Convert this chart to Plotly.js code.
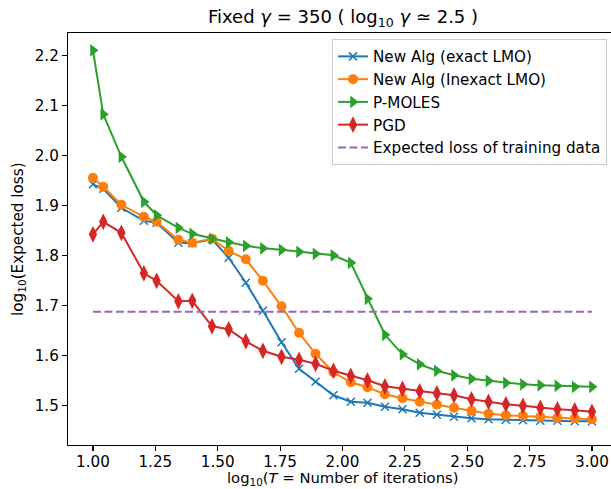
<!DOCTYPE html>
<html>
<head>
<meta charset="utf-8">
<script src="https://cdn.plot.ly/plotly-3.0.1.min.js"></script>
<style>html,body{margin:0;padding:0;background:#fff;}#chart{width:611px;height:489px;}</style>
</head>
<body>
<div id="chart"></div>
<script>
// Iteration counts T (x axis shows log10 T)
var iterations = [10, 11, 13, 16, 18, 22, 25, 30, 35, 41, 48, 57, 67, 78, 92, 108, 126, 148, 174, 204, 239, 280, 329, 385, 452, 529, 621, 727, 853, 1000];

var newAlgExact = [1.942, 1.933, 1.895, 1.869, 1.865, 1.825, 1.824, 1.832, 1.795, 1.745,
                   1.689, 1.626, 1.573, 1.547, 1.520, 1.507, 1.505, 1.497, 1.492, 1.485,
                   1.481, 1.477, 1.474, 1.472, 1.471, 1.470, 1.469, 1.469, 1.468, 1.468];

var newAlgInexact = [1.955, 1.937, 1.901, 1.877, 1.867, 1.831, 1.825, 1.833, 1.809, 1.792,
                     1.749, 1.698, 1.645, 1.603, 1.566, 1.546, 1.536, 1.522, 1.514, 1.507,
                     1.501, 1.495, 1.489, 1.483, 1.480, 1.479, 1.477, 1.475, 1.474, 1.472];

var pMoles = [2.210, 2.082, 1.997, 1.907, 1.880, 1.855, 1.843, 1.833, 1.826, 1.819,
              1.814, 1.811, 1.807, 1.803, 1.800, 1.785, 1.713, 1.641, 1.602, 1.582,
              1.569, 1.560, 1.553, 1.549, 1.545, 1.542, 1.540, 1.539, 1.537, 1.537];

var pgd = [1.842, 1.867, 1.845, 1.764, 1.749, 1.708, 1.709, 1.658, 1.652, 1.628,
           1.609, 1.597, 1.591, 1.583, 1.569, 1.559, 1.550, 1.538, 1.533, 1.528,
           1.524, 1.520, 1.512, 1.507, 1.502, 1.499, 1.495, 1.492, 1.490, 1.487];

var trainingLossX = [1.0, 3.0];
var trainingLoss = [1.687, 1.687];

var xTickVals = [1.00, 1.25, 1.50, 1.75, 2.00, 2.25, 2.50, 2.75, 3.00];
var yTickVals = [1.5, 1.6, 1.7, 1.8, 1.9, 2.0, 2.1, 2.2];

var seriesNames = ['New Alg (exact LMO)', 'New Alg (Inexact LMO)', 'P-MOLES', 'PGD', 'Expected loss of training data'];

var logT = iterations.map(function (t) { return Math.log10(t); });

var FONT = 'DejaVu Sans, sans-serif';
var FS = 15.2;
var PLOT_L = 68, PLOT_W = 543, PLOT_T = 33, PLOT_H = 412;
var Y_TOP = 2.2446, Y_BOT = Y_TOP - PLOT_H / 500;

var traces = [
  {x: logT, y: newAlgExact, name: seriesNames[0], mode: 'lines+markers', legendgroup: 'a',
   line: {color: '#1f77b4', width: 2},
   marker: {symbol: 'x-thin', size: 8, color: '#1f77b4', line: {color: '#1f77b4', width: 1.5}}},
  {x: logT, y: newAlgInexact, name: seriesNames[1], mode: 'lines+markers', legendgroup: 'b',
   line: {color: '#ff7f0e', width: 2},
   marker: {symbol: 'circle', size: 10, color: '#ff7f0e'}},
  {x: logT, y: pMoles, name: seriesNames[2], mode: 'lines+markers', legendgroup: 'c',
   line: {color: '#2ca02c', width: 2},
   marker: {symbol: 'triangle-right', size: 11, color: '#2ca02c'}},
  {x: logT, y: pgd, name: seriesNames[3], mode: 'lines+markers', legendgroup: 'd',
   line: {color: '#d62728', width: 2},
   marker: {symbol: 'diamond-tall', size: 12, color: '#d62728'}},
  {x: trainingLossX, y: trainingLoss, name: seriesNames[4], mode: 'lines', legendgroup: 'e',
   line: {color: '#9467bd', width: 2, dash: '8px,3.5px'}}
];

var layout = {
  width: 611, height: 489,
  margin: {l: PLOT_L, r: 0, t: PLOT_T, b: 489 - PLOT_T - PLOT_H, pad: 0},
  paper_bgcolor: '#ffffff', plot_bgcolor: '#ffffff',
  font: {family: FONT, size: FS, color: '#000000'},
  title: {text: 'Fixed <i>γ</i> = 350 ( log<sub>10</sub> <i>γ</i> ≃ 2.5 )',
          font: {family: FONT, size: 18, color: '#000000'},
          x: 343 / 611, xref: 'container', xanchor: 'center',
          y: 1 - 17 / 489, yref: 'container', yanchor: 'middle'},
  showlegend: true,
  legend: {x: (607 - PLOT_L) / PLOT_W, xanchor: 'right', y: (PLOT_H + PLOT_T - 39) / PLOT_H, yanchor: 'top',
           bgcolor: 'rgba(255,255,255,0.8)', bordercolor: '#cccccc', borderwidth: 1,
           font: {family: FONT, size: FS, color: '#000000'},
           traceorder: 'grouped', tracegroupgap: 0},
  xaxis: {range: [0.9, 0.9 + PLOT_W / 249.5], tickvals: xTickVals, tickformat: '.2f',
          showgrid: false, zeroline: false, showline: true, linecolor: '#000000', linewidth: 1.1,
          mirror: true, ticks: 'outside', ticklen: 5, tickwidth: 1.1, tickcolor: '#000000',
          ticklabelstandoff: -2,
          tickfont: {family: FONT, size: FS, color: '#000000'}},
  yaxis: {range: [Y_BOT, Y_TOP], tickvals: yTickVals, tickformat: '.1f',
          showgrid: false, zeroline: false, showline: true, linecolor: '#000000', linewidth: 1.1,
          mirror: false, ticks: 'outside', ticklen: 5, tickwidth: 1.1, tickcolor: '#000000',
          tickfont: {family: FONT, size: FS, color: '#000000'}},
  annotations: [
    {text: 'log<sub>10</sub>(<i>T</i> = Number of iterations)', showarrow: false,
     xref: 'paper', yref: 'paper', x: (343 - PLOT_L) / PLOT_W, xanchor: 'center',
     y: -(489 - PLOT_T - PLOT_H) / PLOT_H, yanchor: 'bottom', borderpad: 0,
     font: {family: FONT, size: 14.8, color: '#000000'}},
    {text: 'log<sub>10</sub>(Expected loss)', showarrow: false, textangle: -90,
     xref: 'paper', yref: 'paper', x: -(PLOT_L - 19) / PLOT_W, xanchor: 'center',
     y: 0.5, yanchor: 'middle',
     font: {family: FONT, size: FS, color: '#000000'}}
  ]
};

Plotly.newPlot('chart', traces, layout, {displayModeBar: false, staticPlot: true});
</script>
</body>
</html>
